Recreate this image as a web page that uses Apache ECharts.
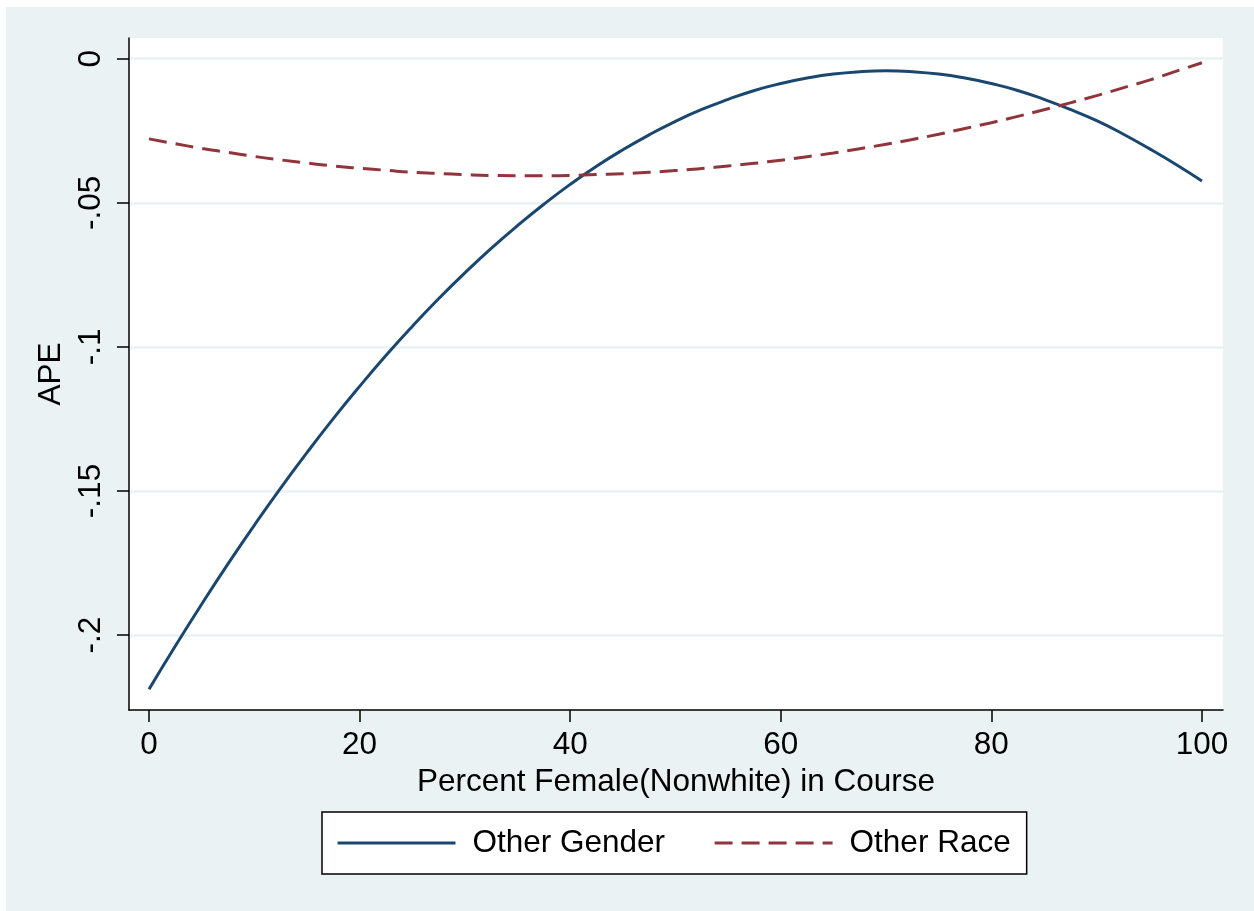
<!DOCTYPE html>
<html>
<head>
<meta charset="utf-8">
<script src="https://cdn.jsdelivr.net/npm/echarts@6/dist/echarts.min.js"></script>
<style>
html, body { margin: 0; padding: 0; background: #ffffff; }
#chart { position: absolute; left: 6px; top: 7px; width: 1248px; height: 904px; }
</style>
</head>
<body>
<div id="chart"></div>
<script>
// ---- data ----
const xValues = [0, 2.5, 5, 7.5, 10, 12.5, 15, 17.5, 20, 22.5, 25, 27.5, 30, 32.5, 35, 37.5, 40, 42.5, 45, 47.5,
  50, 52.5, 55, 57.5, 60, 62.5, 65, 67.5, 70, 72.5, 75, 77.5, 80, 82.5, 85, 87.5, 90, 92.5, 95, 97.5, 100];
const otherGender = [-0.2188, -0.2038, -0.1893, -0.1753, -0.1619, -0.1490, -0.1367, -0.1249, -0.1137, -0.1030,
  -0.0929, -0.0833, -0.0743, -0.0658, -0.0579, -0.0505, -0.0436, -0.0373, -0.0316, -0.0264,
  -0.0217, -0.0176, -0.0141, -0.0110, -0.0086, -0.0067, -0.0053, -0.0045, -0.0042, -0.0045,
  -0.0053, -0.0067, -0.0086, -0.0110, -0.0141, -0.0176, -0.0215, -0.0261, -0.0312, -0.0366, -0.0424];
const otherRace = [-0.0278, -0.0295, -0.0311, -0.0325, -0.0339, -0.0351, -0.0362, -0.0372, -0.0380, -0.0387,
  -0.0394, -0.0398, -0.0402, -0.0405, -0.0406, -0.0406, -0.0405, -0.0402, -0.0399, -0.0394,
  -0.0388, -0.0381, -0.0372, -0.0363, -0.0352, -0.0340, -0.0327, -0.0312, -0.0297, -0.0280,
  -0.0262, -0.0242, -0.0222, -0.0200, -0.0177, -0.0153, -0.0128, -0.0101, -0.0074, -0.0044, -0.0014];
const seriesNames = ['Other Gender', 'Other Race'];
const xTickValues = [0, 20, 40, 60, 80, 100];
const yTickValues = [-0.2, -0.15, -0.1, -0.05, 0];
const yTickLabels = ['-.2', '-.15', '-.1', '-.05', '0'];
const xTitle = 'Percent Female(Nonwhite) in Course';
const yTitle = 'APE';

const FONT = '"Liberation Sans", Arial, sans-serif';
const FS = 31.5;
const chart = echarts.init(document.getElementById('chart'));

const pairs = (ys) => xValues.map((x, i) => [x, ys[i]]);

chart.setOption({
  backgroundColor: '#EAF2F3',
  animation: false,
  textStyle: { fontFamily: FONT },
  grid: {
    left: 123, top: 31, right: 31, bottom: 201,
    show: true, backgroundColor: '#ffffff', borderWidth: 0
  },
  legend: {
    left: 316, top: 805,
    width: 740,
    backgroundColor: '#ffffff',
    borderColor: '#000000', borderWidth: 1.5,
    padding: [15, 16, 15, 14],
    itemWidth: 118, itemHeight: 14,
    itemGap: 48,
    itemStyle: { opacity: 0 },
    lineStyle: { width: 3 },
    textStyle: { fontSize: FS, color: '#000000', fontFamily: FONT, padding: [0, 0, 0, 12] },
    data: seriesNames
  },
  xAxis: {
    type: 'value',
    min: -1.9, max: 102,
    name: xTitle,
    nameLocation: 'middle',
    nameGap: 46,
    nameTextStyle: { fontSize: FS, color: '#000000', fontFamily: FONT },
    axisLine: { show: true, onZero: false, lineStyle: { color: '#000000', width: 1.5 } },
    axisTick: { show: true, length: 12, customValues: xTickValues, lineStyle: { color: '#000000', width: 1.5 } },
    axisLabel: { show: true, customValues: xTickValues, fontSize: FS, color: '#000000', margin: 19, fontFamily: FONT },
    splitLine: { show: false }
  },
  yAxis: {
    type: 'value',
    min: -0.226, max: 0.0072,
    name: yTitle,
    nameLocation: 'middle',
    nameRotate: 90,
    nameGap: 54,
    nameTextStyle: { fontSize: FS, color: '#000000', fontFamily: FONT },
    axisLine: { show: true, onZero: false, lineStyle: { color: '#000000', width: 1.5 } },
    axisTick: { show: true, length: 12, customValues: yTickValues, lineStyle: { color: '#000000', width: 1.5 } },
    axisLabel: {
      show: true, customValues: yTickValues, rotate: 90, fontSize: FS, color: '#000000', margin: 22, fontFamily: FONT,
      formatter: (v) => {
        const i = yTickValues.findIndex(t => Math.abs(t - v) < 1e-9);
        return i >= 0 ? yTickLabels[i] : '';
      }
    },
    splitLine: { show: true, customValues: yTickValues, lineStyle: { color: '#EAF2F3', width: 2.5 } }
  },
  series: [
    {
      name: seriesNames[0], type: 'line', data: pairs(otherGender),
      smooth: true, symbol: 'none',
      lineStyle: { color: '#1A476F', width: 3 },
      itemStyle: { color: '#1A476F' }
    },
    {
      name: seriesNames[1], type: 'line', data: pairs(otherRace),
      smooth: true, symbol: 'none',
      lineStyle: { color: '#90353B', width: 3, type: [18, 9] },
      itemStyle: { color: '#90353B' }
    }
  ]
});
</script>
</body>
</html>
